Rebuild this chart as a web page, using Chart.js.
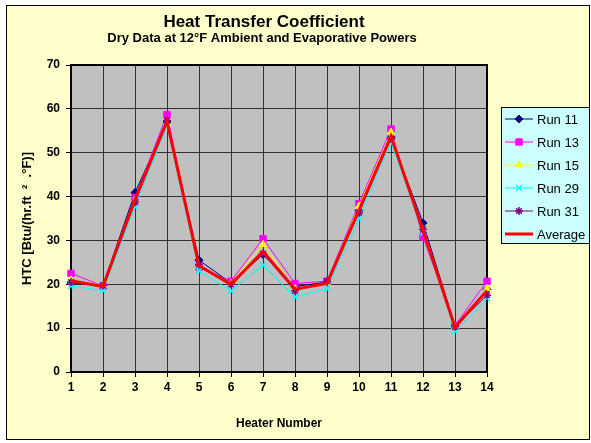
<!DOCTYPE html>
<html lang="en">
<head>
  <meta charset="UTF-8">
  <title>Heat Transfer Coefficient</title>
  <script src="https://cdn.jsdelivr.net/npm/chart.js"></script>
  <style>
    html, body {
      margin: 0;
      padding: 0;
      background: #fff;
    }

    #box {
      width: 591px;
      height: 443px;
    }
  </style>
</head>
<body>

  <div id="box"><canvas id="htcChart" width="591" height="443"></canvas></div>

  <script>
    // heater numbers along the x axis
    const heaters = ['1', '2', '3', '4', '5', '6', '7', '8', '9', '10', '11', '12', '13', '14'];
    const yTicks = [0, 10, 20, 30, 40, 50, 60, 70];

    // HTC values
    const run11 = [20.3, 19.8, 40.9, 57.0, 25.5, 20.3, 26.8, 19.5, 20.5, 36.8, 53.5, 34.0, 10.5, 18.8];
    const run13 = [22.5, 19.6, 39.8, 58.7, 23.9, 20.7, 30.4, 20.2, 20.7, 38.4, 55.4, 30.8, 10.6, 20.7];
    const run15 = [21.0, 19.8, 39.2, 56.7, 24.2, 20.2, 29.1, 19.0, 20.3, 37.8, 54.7, 32.5, 10.4, 19.0];
    const run29 = [19.6, 18.6, 37.7, 56.2, 23.0, 18.5, 24.4, 17.1, 19.0, 35.0, 52.4, 31.8, 9.3, 16.8];
    const run31 = [20.5, 19.7, 38.7, 57.3, 24.5, 20.0, 27.0, 18.5, 20.7, 36.3, 53.2, 32.5, 10.3, 17.5];
    const average = [20.8, 19.5, 39.3, 57.2, 24.2, 20.0, 27.5, 18.9, 20.2, 36.9, 53.8, 32.3, 10.2, 18.6];

    const FONT = '"Liberation Sans", Arial, sans-serif';

    function series(label, data, color, style, radius, order) {
      return {
        label: label,
        data: data,
        borderColor: color,
        backgroundColor: color,
        borderWidth: 1,
        pointStyle: style,
        pointRadius: radius,
        pointBorderWidth: style === 'crossRot' || style === 'star' ? 1.5 : 1,
        pointHoverRadius: radius,
        tension: 0,
        order: order
      };
    }

    const datasets = [
      series('Run 11', run11, '#000080', 'rectRot', 4, 6),
      series('Run 13', run13, '#ff00ff', 'rect', 4.5, 5),
      series('Run 15', run15, '#ffff00', 'triangle', 4, 4),
      series('Run 29', run29, '#00ffff', 'crossRot', 4, 3),
      series('Run 31', run31, '#800080', 'star', 4, 2),
      Object.assign(series('Average', average, '#ff0000', false, 0, 1), { borderWidth: 3 })
    ];

    // yellow frame, titles and grey plot background
    const framePlugin = {
      id: 'frame',
      beforeDraw(chart) {
        const ctx = chart.ctx;
        const a = chart.chartArea;
        ctx.save();
        ctx.fillStyle = '#fff';
        ctx.fillRect(0, 0, chart.width, chart.height);
        ctx.fillStyle = '#ffffcc';
        ctx.fillRect(6, 5, 584, 435);
        ctx.strokeStyle = '#000';
        ctx.lineWidth = 1;
        ctx.strokeRect(6.5, 5.5, 583, 434);

        ctx.fillStyle = '#c0c0c0';
        ctx.fillRect(a.left, a.top, a.right - a.left, a.bottom - a.top);

        ctx.fillStyle = '#000';
        ctx.textAlign = 'center';
        ctx.textBaseline = 'middle';
        ctx.font = 'bold 17px ' + FONT;
        ctx.fillText('Heat Transfer Coefficient', 264, 22);
        ctx.font = 'bold 13px ' + FONT;
        ctx.fillText('Dry Data at 12°F Ambient and Evaporative Powers', 262, 38);
        ctx.restore();
      },
      beforeDatasetsDraw(chart) {
        const ctx = chart.ctx;
        const a = chart.chartArea;
        ctx.save();
        ctx.strokeStyle = '#000';
        ctx.lineWidth = 2;
        ctx.strokeRect(a.left, a.top, a.right - a.left, a.bottom - a.top);
        ctx.restore();
      },
      afterDraw(chart) {
        // legend box like the spreadsheet one
        const ctx = chart.ctx;
        const top = 107, left = 501, right = 590, bottom = 244;
        ctx.save();
        ctx.fillStyle = '#ccffff';
        ctx.fillRect(left, top, right - left, bottom - top);
        ctx.strokeStyle = '#000';
        ctx.lineWidth = 1;
        ctx.strokeRect(left + 0.5, top + 0.5, right - left - 1, bottom - top - 1);
        ctx.font = '13px ' + FONT;
        ctx.textBaseline = 'middle';
        ctx.textAlign = 'left';
        chart.data.datasets.forEach((ds, i) => {
          const y = 119 + i * 23;
          ctx.strokeStyle = ds.borderColor;
          ctx.lineWidth = ds.borderWidth;
          ctx.beginPath();
          ctx.moveTo(505, y);
          ctx.lineTo(533, y);
          ctx.stroke();
          if (ds.pointStyle && Chart.helpers && Chart.helpers.drawPoint) {
            ctx.fillStyle = ds.backgroundColor;
            ctx.lineWidth = ds.pointBorderWidth;
            Chart.helpers.drawPoint(ctx, {
              pointStyle: ds.pointStyle,
              radius: ds.pointRadius,
              rotation: 0,
              borderWidth: ds.pointBorderWidth
            }, 519, y);
          }
          ctx.fillStyle = '#000';
          ctx.fillText(ds.label, 537, y + 1);
        });
        ctx.restore();
      }
    };

    new Chart(document.getElementById('htcChart'), {
      type: 'line',
      data: { labels: heaters, datasets: datasets },
      plugins: [framePlugin],
      options: {
        responsive: false,
        animation: false,
        layout: { padding: { top: 65, left: 0, right: 104, bottom: 0 } },
        plugins: {
          legend: { display: false },
          tooltip: { enabled: false }
        },
        scales: {
          x: {
            offset: false,
            afterFit(scale) { scale.height = 71; },
            grid: { color: '#333', lineWidth: 1, tickLength: 5, tickColor: '#000' },
            border: { color: '#000', width: 2 },
            ticks: {
              padding: 3,
              color: '#000',
              maxRotation: 0,
              font: { family: FONT, size: 12, weight: 'bold' }
            },
            title: {
              display: true,
              text: 'Heater Number',
              color: '#000',
              padding: { top: 0, bottom: 12 },
              font: { family: FONT, size: 12, weight: 'bold' }
            }
          },
          y: {
            min: yTicks[0],
            max: yTicks[yTicks.length - 1],
            afterFit(scale) { scale.width = 71; },
            afterBuildTicks(scale) { scale.ticks = yTicks.map(v => ({ value: v })); },
            grid: { color: '#333', lineWidth: 1, tickLength: 5, tickColor: '#000' },
            border: { color: '#000', width: 2 },
            ticks: {
              padding: 6,
              color: '#000',
              font: { family: FONT, size: 12, weight: 'bold' }
            },
            title: {
              display: true,
              text: 'HTC [Btu/(hr.ft  ²  .°F)]',
              color: '#000',
              padding: { top: 20, bottom: 0 },
              font: { family: FONT, size: 13, weight: 'bold' }
            }
          }
        }
      }
    });
  </script>

</body>
</html>
